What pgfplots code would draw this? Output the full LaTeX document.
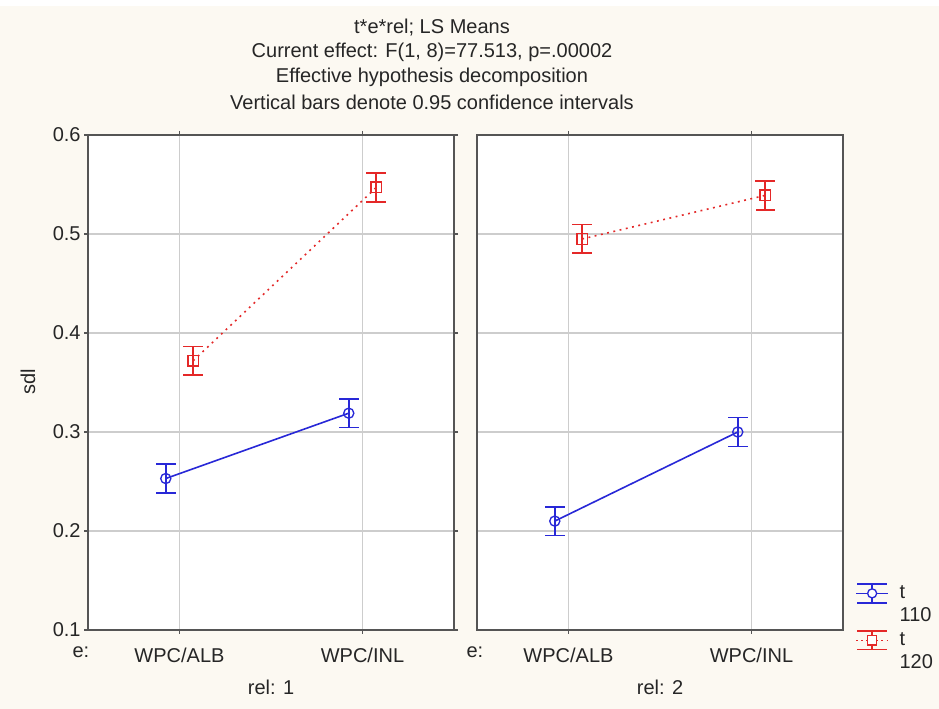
\documentclass[border=0pt]{standalone}
\usepackage{fontspec}
\setmainfont{Liberation Sans}
\usepackage{pgfplots}
\pgfplotsset{compat=1.18}

\definecolor{bgcream}{RGB}{252,249,242}
\definecolor{sblue}{RGB}{40,40,215}
\definecolor{sred}{RGB}{228,40,40}
\definecolor{framegray}{RGB}{85,85,85}
\definecolor{gridgray}{RGB}{205,205,205}

% 1 px of the reference = 0.75pt
\pgfplotsset{
  panel/.style={
    scale only axis, width=274.5pt, height=371.25pt, anchor=south west,
    xmin=-0.5, xmax=1.5, ymin=0.1, ymax=0.6,
    xtick={0,1}, xticklabels={WPC/ALB,WPC/INL},
    ytick={0.1,0.2,0.3,0.4,0.5,0.6},
    grid=major, major grid style={gridgray, line width=1pt},
    axis line style={framegray, line width=1.5pt},
    axis background/.style={fill=white},
    tick style={framegray, line width=0.8pt},
    major tick length=3pt, tick align=outside,
    ticklabel style={font=\fontsize{15}{17}\selectfont, text=black!85},
    /pgf/number format/assume math mode=true,
    yticklabel style={/pgf/number format/fixed, /pgf/number format/fixed zerofill,
      /pgf/number format/precision=1, xshift=1pt},
    xticklabel style={anchor=base, yshift=-21.75pt},
    xlabel style={at={(axis description cs:0.5,0)}, anchor=base, yshift=-48.75pt,
      font=\fontsize{15}{17}\selectfont, text=black!85},
    clip=false,
  },
  tblue/.style={sblue, line width=1.2pt, mark=o, mark size=3.8pt,
    mark options={solid, fill=white, line width=1pt},
    error bars/y dir=both, error bars/y explicit,
    error bars/error bar style={sblue, line width=1.2pt, solid},
    error bars/error mark options={sblue, solid, line width=1.2pt, mark size=7.3pt, rotate=90}},
  tred/.style={sred, line width=1.2pt, dash pattern=on 1.4pt off 3.4pt,
    mark=square, mark size=4pt,
    mark options={solid, fill=white, line width=1pt},
    error bars/y dir=both, error bars/y explicit,
    error bars/error bar style={sred, line width=1.2pt, solid},
    error bars/error mark options={sred, solid, line width=1.2pt, mark size=7.3pt, rotate=90}},
}

\begin{document}
\begin{tikzpicture}
\fill[bgcream] (0,0) rectangle (704.25pt,531.75pt);
\fill[white] (0,527pt) rectangle (704.25pt,531.75pt);
\useasboundingbox (0,0) rectangle (704.25pt,531.75pt);

% title
\begin{scope}[every node/.style={font=\fontsize{15}{17}\selectfont, text=black!85}]
\node at (324pt,510.75pt) {t*e*rel; LS Means};
\node at (324pt,492.75pt) {Current effect: F(1, 8)=77.513, p=.00002};
\node at (324pt,474pt) {Effective hypothesis decomposition};
\node at (324pt,455.25pt) {Vertical bars denote 0.95 confidence intervals};
\end{scope}

\node[rotate=90, font=\fontsize{15}{17}\selectfont, text=black!85] at (21pt,245.25pt) {sdl};
\node[anchor=east, font=\fontsize{15}{17}\selectfont, text=black!85] at (70.5pt,42.75pt) {e:};
\node[anchor=east, font=\fontsize{15}{17}\selectfont, text=black!85] at (366pt,42.75pt) {e:};

% rel: 1
\begin{axis}[panel, at={(66pt,59.25pt)}, xlabel={rel: 1}]
\addplot+[tblue] coordinates {(-0.075,0.253) +- (0,0.0145) (0.925,0.319) +- (0,0.0145)};
\addplot+[tred] coordinates {(0.075,0.372) +- (0,0.0142) (1.075,0.547) +- (0,0.0145)};
\end{axis}

% rel: 2
\begin{axis}[panel, at={(357.75pt,59.25pt)}, xlabel={rel: 2},
  yticklabels={}, ytick style={draw=none},
  legend style={at={(axis description cs:1.033,0.095)}, anchor=north west,
    draw=none, fill=none, inner sep=0pt, row sep=20pt,
    nodes={inner sep=0pt, font=\fontsize{15}{17}\selectfont, text=black!85}},
  legend cell align=left]
\addplot+[tblue, legend image code/.code={
  \draw[sblue, solid, line width=1.2pt] (0pt,0pt) -- (24pt,0pt);
  \draw[sblue, solid, line width=1.2pt] (1pt,7pt) -- (23pt,7pt);
  \draw[sblue, solid, line width=1.2pt] (1pt,-7pt) -- (23pt,-7pt);
  \draw[sblue, solid, line width=1.2pt] (12pt,-7pt) -- (12pt,7pt);
  \draw[sblue, solid, line width=1pt, fill=white] (12pt,0pt) circle (3.4pt);}]
  coordinates {(-0.075,0.210) +- (0,0.0145) (0.925,0.300) +- (0,0.0145)};
\addlegendentry{\hspace{8pt}\smash{\rlap{\raisebox{-17pt}{110}}}t}
\addplot+[tred, legend image code/.code={
  \draw[sred, line width=1.2pt, dash pattern=on 1.4pt off 2.4pt] (0pt,0pt) -- (24pt,0pt);
  \draw[sred, solid, line width=1.2pt] (1pt,7pt) -- (23pt,7pt);
  \draw[sred, solid, line width=1.2pt] (1pt,-7pt) -- (23pt,-7pt);
  \draw[sred, solid, line width=1.2pt] (12pt,-7pt) -- (12pt,7pt);
  \draw[sred, solid, line width=1pt, fill=white] (8.5pt,-3.5pt) rectangle (15.5pt,3.5pt);}]
  coordinates {(0.075,0.495) +- (0,0.0145) (1.075,0.539) +- (0,0.0145)};
\addlegendentry{\hspace{8pt}\smash{\rlap{\raisebox{-17pt}{120}}}t}
\end{axis}
\end{tikzpicture}
\end{document}
